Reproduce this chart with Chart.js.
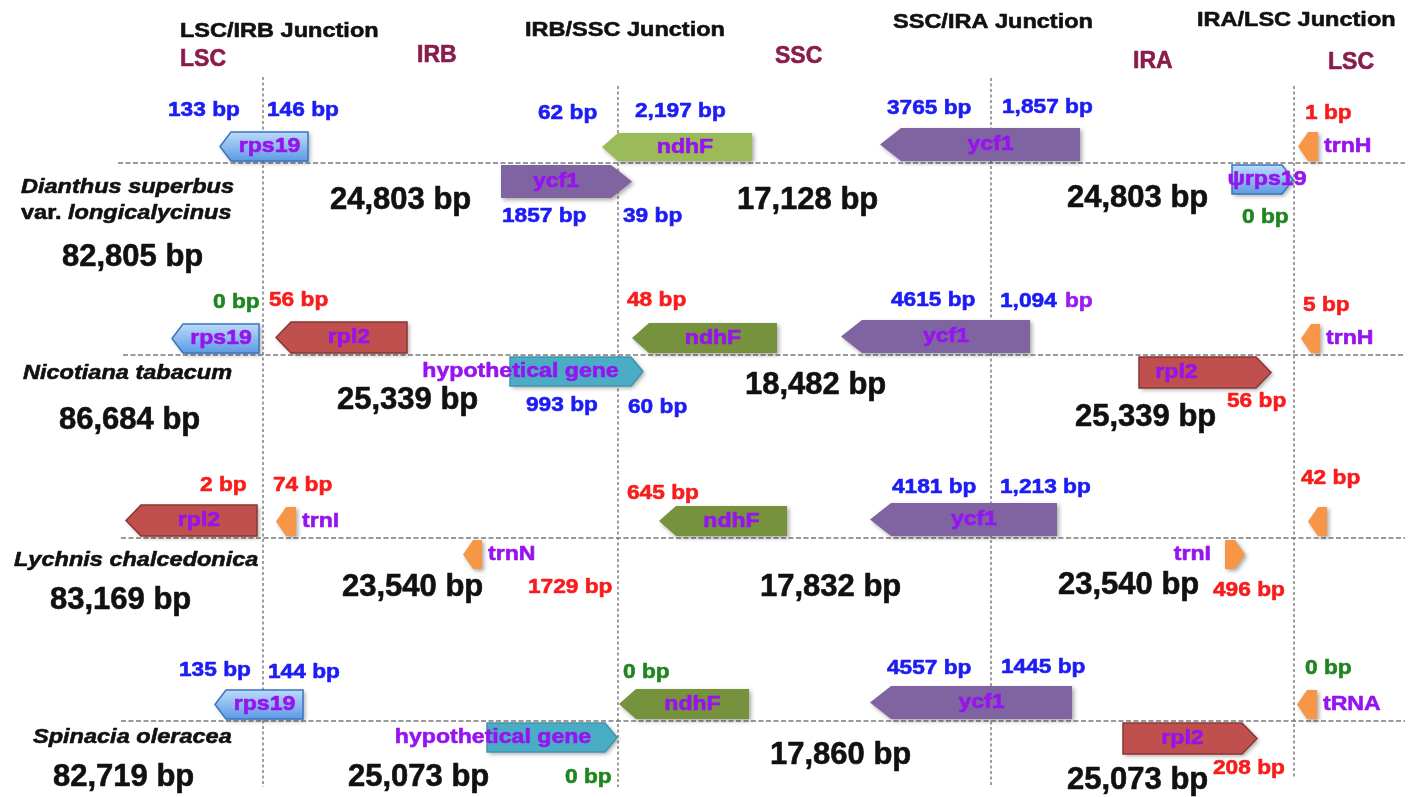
<!DOCTYPE html>
<html>
<head>
<meta charset="utf-8">
<title>IR boundary comparison</title>
<script src="https://cdn.jsdelivr.net/npm/chart.js@4.4.1/dist/chart.umd.min.js"></script>
<style>
  html, body { margin: 0; padding: 0; background: #fff; }
  #wrap { width: 1411px; height: 797px; }
</style>
</head>
<body>
<div id="wrap"><canvas id="chart" width="1411" height="797"></canvas></div>
<script>
// schematic axes: x runs 0..1411 along the diagram, y 0..797 down the page
const junctionNames = ['LSC/IRB Junction', 'IRB/SSC Junction', 'SSC/IRA Junction', 'IRA/LSC Junction'];
const regionNames = ['LSC', 'IRB', 'SSC', 'IRA', 'LSC'];
const speciesNames = ['Dianthus superbus', 'Nicotiana tabacum', 'Lychnis chalcedonica', 'Spinacia oleracea'];
const speciesVariety = ['longicalycinus', '', '', ''];
const lscLength = ['82,805 bp', '86,684 bp', '83,169 bp', '82,719 bp'];
const irLength = ['24,803 bp', '25,339 bp', '23,540 bp', '25,073 bp'];
const sscLength = ['17,128 bp', '18,482 bp', '17,832 bp', '17,860 bp'];

// junction positions and the row line of each genome
const junctionAt = [263, 618, 991, 1294];
const rowAt = [163, 355, 538, 721];

// [row, gene, kind, start, end, strand (-1 left / +1 right), side of row line]
const genes = [
  [0, 'rps19', 'rps19', 220, 308, -1, 'up'],
  [0, 'ndhF', 'ndhFlight', 602, 752, -1, 'up'],
  [0, 'ycf1', 'ycf1', 880, 1080, -1, 'up'],
  [0, 'trnH', 'trn', 1298, 1318, -1, 'up'],
  [0, 'ycf1', 'ycf1', 501, 632, 1, 'down'],
  [0, 'ψrps19', 'rps19', 1232, 1293, 1, 'down'],
  [1, 'rps19', 'rps19', 172, 259, -1, 'up'],
  [1, 'rpl2', 'rpl2', 276, 407, -1, 'up'],
  [1, 'ndhF', 'ndhF', 632, 777, -1, 'up'],
  [1, 'ycf1', 'ycf1', 841, 1030, -1, 'up'],
  [1, 'trnH', 'trn', 1301, 1320, -1, 'up'],
  [1, 'hypothetical gene', 'hypo', 510, 643, 1, 'down'],
  [1, 'rpl2', 'rpl2', 1139, 1271, 1, 'down'],
  [2, 'rpl2', 'rpl2', 126, 257, -1, 'up'],
  [2, 'trnI', 'trn', 276, 296, -1, 'up'],
  [2, 'ndhF', 'ndhF', 659, 787, -1, 'up'],
  [2, 'ycf1', 'ycf1', 870, 1057, -1, 'up'],
  [2, '', 'trn', 1308, 1327, -1, 'up'],
  [2, 'trnN', 'trn', 463, 482, -1, 'down'],
  [2, 'trnI', 'trn', 1225, 1245, 1, 'down'],
  [3, 'rps19', 'rps19', 215, 303, -1, 'up'],
  [3, 'ndhF', 'ndhF', 619, 749, -1, 'up'],
  [3, 'ycf1', 'ycf1', 870, 1072, -1, 'up'],
  [3, 'tRNA', 'trn', 1297, 1317, -1, 'up'],
  [3, 'hypothetical gene', 'hypo', 487, 617, 1, 'down'],
  [3, 'rpl2', 'rpl2', 1123, 1257, 1, 'down']
];

// distances from the junctions (b blue, r red, g green, p purple)
const gapText = [
  '133 bp', '146 bp', '62 bp', '2,197 bp', '3765 bp', '1,857 bp', '1 bp', '1857 bp', '39 bp', '0 bp',
  '0 bp', '56 bp', '48 bp', '4615 bp', '1,094', 'bp', '5 bp', '993 bp', '60 bp', '56 bp',
  '2 bp', '74 bp', '645 bp', '4181 bp', '1,213 bp', '42 bp', '1729 bp', '496 bp',
  '135 bp', '144 bp', '0 bp', '4557 bp', '1445 bp', '0 bp', '0 bp', '208 bp'
];
const gapTone = [
  'b', 'b', 'b', 'b', 'b', 'b', 'r', 'b', 'b', 'g',
  'g', 'r', 'r', 'b', 'b', 'p', 'r', 'b', 'b', 'r',
  'r', 'r', 'r', 'b', 'b', 'r', 'r', 'r',
  'b', 'b', 'g', 'b', 'b', 'g', 'g', 'r'
];

// ---- layout (left edge, vertical middle) ----
const gapAt = [
  [168, 110], [267, 110], [538, 113], [635, 111], [887, 108], [1002, 107], [1305, 113], [502, 216], [623, 216], [1242, 217],
  [213, 302], [269, 300], [627, 300], [891, 300], [1000, 301], [1065, 301], [1303, 305], [526, 405], [628, 407], [1227, 401],
  [200, 485], [273, 485], [627, 493], [892, 487], [1000, 487], [1301, 478], [528, 587], [1213, 590],
  [179, 670], [268, 672], [623, 672], [887, 668], [1001, 667], [1305, 668], [565, 777], [1213, 768]
];
const headAt = [[180, 31], [525, 30], [893, 22], [1197, 20]];
const regionAt = [[180, 60], [417, 56], [775, 57], [1133, 62], [1328, 63]];
const speciesAt = [[21, 187], [23, 373], [14, 560], [33, 737]];
const varietyAt = [21, 213];
const lengthAt = {
  lsc: [[62, 257], [59, 420], [50, 600], [53, 777]],
  irb: [[330, 200], [337, 400], [342, 587], [348, 777]],
  ssc: [[737, 200], [745, 385], [760, 587], [770, 755]],
  ira: [[1067, 198], [1075, 417], [1058, 585], [1067, 780]]
};
const junctionSpan = [[77, 787], [86, 787], [78, 787], [86, 778]];
const rowStart = [118, 123, 121, 121];
const rowEnd = 1405;
const labelNudge = { '0:ψrps19': 10, '1:hypothetical gene': -50, '3:hypothetical gene': -53, '1:rpl2:down': -21 };

const KIND = {
  rps19: { fill: ['#bcdaf9', '#5d9be5'], stroke: '#3a74c0', thick: 29, tip: 11 },
  ndhFlight: { fill: '#9bbb59', thick: 28, tip: 16 },
  ndhF: { fill: '#76923c', thick: 30, tip: 17 },
  ycf1: { fill: '#8064a2', thick: 33, tip: 21 },
  rpl2: { fill: '#c0504d', stroke: '#8c3532', thick: 31, tip: 15 },
  hypo: { fill: '#4bacc6', stroke: '#3f95ad', thick: 29, tip: 12 },
  trn: { fill: '#f79646', thick: 29, tip: 10 }
};

const TEXT = {
  head: { size: 21, sx: 1.12, color: '#111111' },
  region: { size: 23, sx: 1, color: '#8a1c4c' },
  note: { size: 21, sx: 1.08 },
  gene: { size: 21, sx: 1.1, color: '#9614ef' },
  species: { size: 21, sx: 1.12, color: '#111111', italic: true },
  length: { size: 31, sx: 1, color: '#111111' }
};
const TONES = { b: '#1c1cf4', r: '#f81c1c', g: '#1f861f', p: '#9a1cf0' };

function drawText(ctx, str, px, py, style, color, align) {
  ctx.save();
  ctx.font = `${style.italic ? 'italic ' : ''}bold ${style.size}px "Liberation Sans", Arial, sans-serif`;
  ctx.fillStyle = color || style.color;
  ctx.strokeStyle = color || style.color;
  ctx.lineWidth = 0.6;
  ctx.lineJoin = 'round';
  ctx.textBaseline = 'middle';
  ctx.textAlign = align || 'left';
  ctx.translate(px, py);
  ctx.scale(style.sx, 1);
  ctx.fillText(str, 0, 0);
  ctx.strokeText(str, 0, 0);
  const w = ctx.measureText(str).width * style.sx;
  ctx.restore();
  return w;
}

function geneDatasets() {
  return Object.keys(KIND).map((kind) => {
    const k = KIND[kind];
    return {
      type: 'bar',
      label: kind,
      geneKind: kind,
      indexAxis: 'y',
      grouped: false,
      barThickness: k.thick,
      backgroundColor: Array.isArray(k.fill) ? k.fill[1] : k.fill,
      order: 1,
      data: genes.filter((g) => g[2] === kind).map((g) => ({
        x: [g[3], g[4]],
        y: rowAt[g[0]] + (g[6] === 'up' ? -1 : 1) * (k.thick / 2 + 2),
        gene: g
      }))
    };
  });
}

function lineDatasets() {
  const sets = [];
  junctionAt.forEach((jx, i) => {
    sets.push({
      type: 'line', order: 10, borderColor: '#808080', borderWidth: 1.5, borderDash: [3, 2.5],
      pointRadius: 0, data: [{ x: jx, y: junctionSpan[i][0] }, { x: jx, y: junctionSpan[i][1] }]
    });
  });
  rowAt.forEach((ry, i) => {
    sets.push({
      type: 'line', order: 10, borderColor: '#9a9a9a', borderWidth: 2, borderDash: [5, 2.5],
      pointRadius: 0, data: [{ x: rowStart[i], y: ry }, { x: rowEnd, y: ry }]
    });
  });
  return sets;
}

function geneBox(el) {
  const p = el.getProps(['x', 'y', 'base', 'height'], true);
  return {
    left: Math.min(p.x, p.base), right: Math.max(p.x, p.base),
    top: p.y - p.height / 2, bottom: p.y + p.height / 2, mid: p.y
  };
}

const geneShapes = {
  id: 'geneShapes',
  beforeDatasetDraw(chart, args) {
    const ds = chart.data.datasets[args.index];
    if (!ds.geneKind) return;
    const k = KIND[ds.geneKind];
    const ctx = chart.ctx;
    args.meta.data.forEach((el, i) => {
      const g = ds.data[i].gene;
      const b = geneBox(el);
      ctx.save();
      ctx.beginPath();
      if (g[5] < 0) {
        ctx.moveTo(b.left, b.mid);
        ctx.lineTo(b.left + k.tip, b.top);
        ctx.lineTo(b.right, b.top);
        ctx.lineTo(b.right, b.bottom);
        ctx.lineTo(b.left + k.tip, b.bottom);
      } else {
        ctx.moveTo(b.left, b.top);
        ctx.lineTo(b.right - k.tip, b.top);
        ctx.lineTo(b.right, b.mid);
        ctx.lineTo(b.right - k.tip, b.bottom);
        ctx.lineTo(b.left, b.bottom);
      }
      ctx.closePath();
      if (Array.isArray(k.fill)) {
        const grad = ctx.createLinearGradient(0, b.top, 0, b.bottom);
        grad.addColorStop(0, k.fill[0]);
        grad.addColorStop(1, k.fill[1]);
        ctx.fillStyle = grad;
      } else {
        ctx.fillStyle = k.fill;
      }
      ctx.shadowColor = 'rgba(0,0,0,0.35)';
      ctx.shadowBlur = 4;
      ctx.shadowOffsetX = 2;
      ctx.shadowOffsetY = 2;
      ctx.fill();
      if (k.stroke) {
        ctx.shadowColor = 'transparent';
        ctx.strokeStyle = k.stroke;
        ctx.lineWidth = 1.5;
        ctx.stroke();
      }
      ctx.restore();
    });
    return false;
  }
};

const textLayer = {
  id: 'textLayer',
  afterDatasetsDraw(chart) {
    const ctx = chart.ctx;
    const sx = chart.scales.x;
    const sy = chart.scales.y;
    const at = (pt) => [sx.getPixelForValue(pt[0]), sy.getPixelForValue(pt[1])];

    junctionNames.forEach((t, i) => drawText(ctx, t, ...at(headAt[i]), TEXT.head));
    regionNames.forEach((t, i) => drawText(ctx, t, ...at(regionAt[i]), TEXT.region));

    speciesNames.forEach((t, i) => {
      drawText(ctx, t, ...at(speciesAt[i]), TEXT.species);
      if (speciesVariety[i]) {
        const [vx, vy] = at(varietyAt);
        const w = drawText(ctx, 'var. ', vx, vy, Object.assign({}, TEXT.species, { italic: false }));
        drawText(ctx, speciesVariety[i], vx + w, vy, TEXT.species);
      }
      drawText(ctx, lscLength[i], ...at(lengthAt.lsc[i]), TEXT.length);
      drawText(ctx, irLength[i], ...at(lengthAt.irb[i]), TEXT.length);
      drawText(ctx, sscLength[i], ...at(lengthAt.ssc[i]), TEXT.length);
      drawText(ctx, irLength[i], ...at(lengthAt.ira[i]), TEXT.length);
    });

    gapText.forEach((t, i) => drawText(ctx, t, ...at(gapAt[i]), TEXT.note, TONES[gapTone[i]]));

    chart.data.datasets.forEach((ds, di) => {
      if (!ds.geneKind) return;
      const k = KIND[ds.geneKind];
      chart.getDatasetMeta(di).data.forEach((el, i) => {
        const g = ds.data[i].gene;
        if (!g[1]) return;
        const b = geneBox(el);
        if (ds.geneKind === 'trn') {
          if (g[5] > 0 && g[6] === 'down') drawText(ctx, g[1], b.left - 14, b.mid, TEXT.gene, null, 'right');
          else drawText(ctx, g[1], b.right + 6, b.mid, TEXT.gene);
          return;
        }
        const bodyMid = g[5] < 0 ? (b.left + k.tip + b.right) / 2 : (b.left + b.right - k.tip) / 2;
        const nudge = labelNudge[`${g[0]}:${g[1]}:${g[6]}`] || labelNudge[`${g[0]}:${g[1]}`] || 0;
        drawText(ctx, g[1], bodyMid + nudge, b.mid, TEXT.gene, null, 'center');
      });
    });
  }
};

new Chart(document.getElementById('chart'), {
  type: 'bar',
  data: { datasets: lineDatasets().concat(geneDatasets()) },
  options: {
    responsive: false,
    devicePixelRatio: 1,
    animation: false,
    events: [],
    layout: { padding: 0 },
    plugins: { legend: { display: false }, tooltip: { enabled: false } },
    scales: {
      x: { type: 'linear', min: 0, max: 1411, display: false, offset: false },
      y: { type: 'linear', min: 0, max: 797, reverse: true, display: false, offset: false }
    }
  },
  plugins: [geneShapes, textLayer]
});
</script>
</body>
</html>
